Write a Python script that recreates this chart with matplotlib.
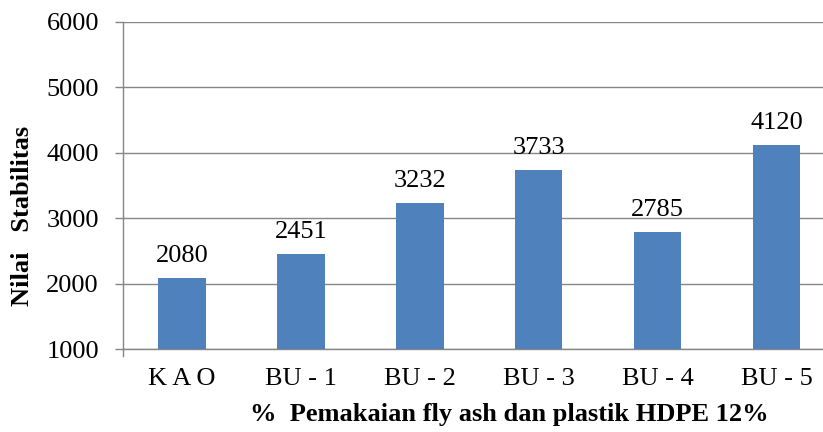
import numpy as np
import matplotlib
matplotlib.use('Agg')
import matplotlib.pyplot as plt

categories = ['K A O', 'BU - 1', 'BU - 2', 'BU - 3', 'BU - 4', 'BU - 5']
stabilitas = [2080, 2451, 3232, 3733, 2785, 4120]
y_ticks = [1000, 2000, 3000, 4000, 5000, 6000]

plt.rcParams['font.family'] = ['Liberation Serif', 'DejaVu Serif']

W, H = 823, 432
fig = plt.figure(figsize=(W / 100, H / 100), dpi=100)
left, right = 122.5, 823
top, bottom = 22, 349
ax = fig.add_axes([left / W, 1 - bottom / H, (right - left) / W, (bottom - top) / H])

slot = 118.9
x = np.arange(len(categories))
ax.bar(x, stabilitas, width=0.4, color='#4F81BD', zorder=3)
for xi, v in zip(x, stabilitas):
    ax.text(xi, v + 170, str(v), ha='center', va='bottom', fontsize=19, color='black')

ax.set_xlim(-0.5, (right - left) / slot - 0.5)
ax.set_ylim(1000, 6000)
ax.set_yticks(y_ticks)
ax.set_yticklabels([str(t) for t in y_ticks], fontsize=19)
ax.set_xticks(x)
ax.set_xticklabels(categories, fontsize=19)
ax.tick_params(axis='x', length=0, pad=14)
ax.tick_params(axis='y', length=6, width=1, color='#868686', pad=11)

ax.yaxis.grid(True, color='#868686', linewidth=1, zorder=0)
for s in ['top', 'right']:
    ax.spines[s].set_visible(False)
ax.spines['left'].set_color('#868686')
ax.spines['bottom'].set_color('#868686')
ax.spines['left'].set_linewidth(1)
ax.spines['bottom'].set_linewidth(1)
# small tick at the origin under the x axis
ax.plot([-0.5, -0.5], [1000, 1000 - 100], color='#868686', linewidth=1, clip_on=False)

fig.text(23 / W, 1 - 216 / H, 'Nilai   Stabilitas', rotation=90, ha='center', va='center',
         fontsize=19, fontweight='bold')
fig.text(509 / W, 1 - 414 / H, '%  Pemakaian fly ash dan plastik HDPE 12%', ha='center', va='center',
         fontsize=19, fontweight='bold')

fig.savefig('out.png', dpi=100)
